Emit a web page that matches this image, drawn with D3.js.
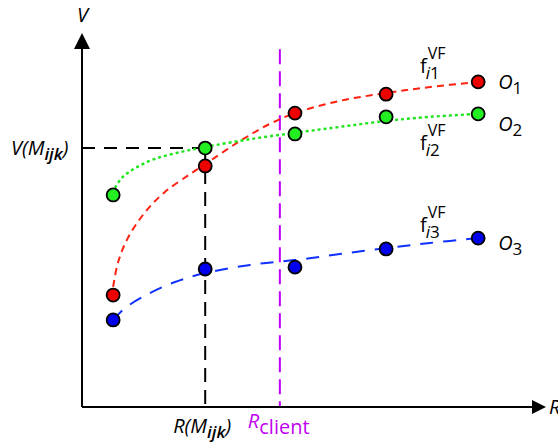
<!DOCTYPE html>
<html>
<head>
<meta charset="utf-8">
<script src="https://cdn.jsdelivr.net/npm/d3@7"></script>
<style>
  html, body { margin: 0; padding: 0; background: #fff; }
  svg { display: block; font-family: "Open Sans", "DejaVu Sans", sans-serif; }
</style>
</head>
<body>
<svg id="chart" width="558" height="446"></svg>
<script>
// Offer positions on the R axis and the value of each offer for the three options
const offerR = [6.8, 26.9, 46.5, 66.4, 86.5];
const valueO1 = [30.1, 64.8, 79.0, 84.1, 87.4];
const valueO2 = [57.0, 69.6, 73.4, 78.0, 78.8];
const valueO3 = [23.4, 37.1, 37.6, 42.5, 45.4];

// Fitted value functions f^VF (sampled along R)
const fitR1 = [6.8, 7.9, 10.0, 13.8, 18.1, 23.6, 26.9, 34.5, 41.0, 46.5, 56.3, 66.4, 76.0, 86.5];
const fitV1 = [32.3, 39.0, 45.4, 52.4, 57.8, 62.6, 65.3, 71.5, 76.1, 79.0, 82.3, 84.4, 86.0, 87.4];
const fitR2 = [7.2, 8.7, 11.6, 15.9, 21.4, 26.9, 36.7, 46.5, 56.3, 66.4, 76.0, 86.5];
const fitV2 = [58.9, 61.6, 64.2, 66.7, 68.5, 69.9, 72.0, 73.7, 75.3, 76.9, 78.0, 78.8];
const fitR3 = [6.8, 9.4, 14.8, 20.3, 26.9, 36.7, 46.5, 56.3, 66.4, 76.0, 86.5];
const fitV3 = [23.4, 26.6, 30.6, 33.6, 36.0, 38.2, 39.5, 41.1, 42.7, 44.1, 45.4];

// Reference values
const refR = 26.9;      // R(M_ijk)
const refV = 69.6;      // V(M_ijk)
const clientR = 43.2;   // R_client
const clientTop = 96.2;

const svg = d3.select("#chart");
const x = d3.scaleLinear().domain([0, 100]).range([82, 540]);
const y = d3.scaleLinear().domain([0, 100]).range([407, 35]);

// guide lines
svg.append("line")
  .attr("x1", x(0)).attr("x2", x(refR))
  .attr("y1", y(refV)).attr("y2", y(refV))
  .attr("stroke", "#000").attr("stroke-width", 2).attr("stroke-dasharray", "13,9");
svg.append("line")
  .attr("x1", x(refR)).attr("x2", x(refR))
  .attr("y1", y(refV)).attr("y2", y(0))
  .attr("stroke", "#000").attr("stroke-width", 2).attr("stroke-dasharray", "14,8");
svg.append("line")
  .attr("x1", x(clientR)).attr("x2", x(clientR))
  .attr("y1", y(clientTop)).attr("y2", y(0))
  .attr("stroke", "#c000ff").attr("stroke-width", 2).attr("stroke-dasharray", "15,7");

// axes with arrow heads
const axisColor = "#000";
svg.append("line").attr("x1", x(0)).attr("x2", x(100))
  .attr("y1", y(0)).attr("y2", y(0)).attr("stroke", axisColor).attr("stroke-width", 2);
svg.append("line").attr("x1", x(0)).attr("x2", x(0))
  .attr("y1", y(0)).attr("y2", y(100) + 8).attr("stroke", axisColor).attr("stroke-width", 2);
const xe = x(100), ye = y(0);
svg.append("path")
  .attr("d", `M${xe + 6},${ye} L${xe - 8},${ye - 7} L${xe - 8},${ye + 7} Z`)
  .attr("fill", axisColor);
const yx = x(0), yt = y(100);
svg.append("path")
  .attr("d", `M${yx},${yt - 2} L${yx - 8},${yt + 14} L${yx + 8},${yt + 14} Z`)
  .attr("fill", axisColor);

// fitted curves
const line = d3.line().x(d => x(d[0])).y(d => y(d[1])).curve(d3.curveCatmullRom.alpha(0.5));
const curves = [
  { r: fitR1, v: fitV1, color: "#ff2010", dash: "7,5", w: 2 },
  { r: fitR2, v: fitV2, color: "#1de61d", dash: "3,3", w: 2.4 },
  { r: fitR3, v: fitV3, color: "#1030ff", dash: "13,10", w: 2 }
];
curves.forEach(c => {
  svg.append("path")
    .datum(d3.zip(c.r, c.v))
    .attr("d", line)
    .attr("fill", "none")
    .attr("stroke", c.color)
    .attr("stroke-width", c.w)
    .attr("stroke-dasharray", c.dash);
});

// offer points
const series = [
  { v: valueO2, color: "#22ee22" },
  { v: valueO1, color: "#ee0000" },
  { v: valueO3, color: "#0000ee" }
];
series.forEach(s => {
  svg.append("g").selectAll("circle")
    .data(d3.zip(offerR, s.v))
    .join("circle")
    .attr("cx", d => x(d[0]))
    .attr("cy", d => y(d[1]))
    .attr("r", 6.5)
    .attr("fill", s.color)
    .attr("stroke", "#000")
    .attr("stroke-width", 1.8);
});

// text helpers
function label(px, py, parts, color) {
  const t = svg.append("text").attr("x", px).attr("y", py).attr("fill", color || "#000");
  parts.forEach(p => {
    const s = t.append("tspan").text(p.t)
      .attr("font-size", p.size || 20)
      .attr("font-style", p.italic ? "italic" : "normal")
      .attr("font-weight", p.weight || "normal");
    if (p.dy) s.attr("dy", p.dy);
    if (p.dx) s.attr("dx", p.dx);
  });
  return t;
}

// axis titles
label(77, 22, [{ t: "V", italic: true }]);
label(549, 414, [{ t: "R", italic: true }]);

// reference labels
label(x(0) - 71, y(refV) + 7, [
  { t: "V(M", italic: true },
  { t: "ijk", italic: true, weight: 600, size: 17, dy: 5 },
  { t: ")", italic: true, dy: -5 }
]);
label(x(refR) - 32, 433, [
  { t: "R(M", italic: true },
  { t: "ijk", italic: true, weight: 600, size: 17, dy: 5 },
  { t: ")", italic: true, dy: -5 }
]);
label(x(clientR) - 32, 428, [
  { t: "R", italic: true },
  { t: "client", dy: 6 }
], "#c000f0");

// option labels
const optNames = [["1", y(valueO1[4]) + 7], ["2", y(valueO2[4]) + 17], ["3", y(valueO3[4]) + 12]];
optNames.forEach(([n, py]) => {
  label(x(offerR[4]) + 20, py, [
    { t: "O", italic: true },
    { t: n, size: 17, dy: 5 }
  ]);
});

// value function labels: f with stacked subscript (i n) and superscript (VF)
const fLabels = [["1", 73], ["2", 150], ["3", 232]];
fLabels.forEach(([n, py]) => {
  const t = svg.append("text").attr("x", 420).attr("y", py).attr("fill", "#000");
  t.append("tspan").text("f").attr("font-size", 20);
  const si = t.append("tspan").text("i").attr("font-size", 17)
    .attr("font-style", "italic").attr("dy", 6).attr("dx", -1);
  const sn = t.append("tspan").text(n).attr("font-size", 17);
  const subW = si.node().getComputedTextLength() + sn.node().getComputedTextLength();
  t.append("tspan").text("VF").attr("font-size", 16)
    .attr("dx", -subW + 2).attr("dy", -20);
});
</script>
</body>
</html>
